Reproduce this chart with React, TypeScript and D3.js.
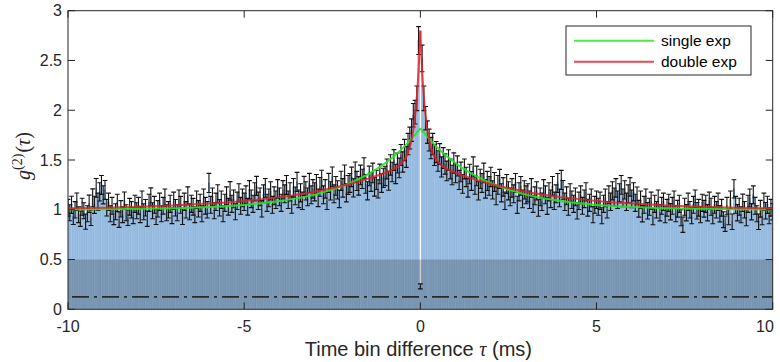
import React from "react";
import * as d3 from "d3";

// ---------- data ----------
const BIN = 0.05; // ms
// g2 values for tau = -10.00 ... -0.05
const G2_LEFT = [
  1.02, 0.97, 1.05, 0.93, 1.00, 1.08, 0.95, 0.91, 1.03, 0.99, 0.88, 0.96, 1.06, 0.92, 1.12, 1.05, 1.22, 1.08, 1.18, 1.25,
  1.15, 1.20, 1.02, 1.08, 0.96, 1.04, 0.93, 0.98, 1.07, 0.90, 1.01, 0.95, 1.09, 0.97, 0.92, 1.03, 1.00, 0.94, 1.06, 0.99,
  1.04, 0.95, 1.10, 0.98, 1.02, 0.91, 1.07, 1.13, 0.99, 1.05, 0.93, 1.01, 1.08, 0.96, 1.04, 1.12, 0.97, 1.00, 1.06, 0.94,
  1.09, 1.02, 0.97, 1.11, 1.05, 0.93, 1.08, 1.00, 1.14, 0.98, 1.06, 1.03, 0.95, 1.10, 1.01, 1.07, 0.96, 1.12, 1.04, 1.00,
  1.27, 1.05, 1.13, 0.99, 1.08, 1.16, 1.02, 1.10, 0.96, 1.07, 1.14, 1.03, 1.19, 1.06, 1.11, 0.98, 1.09, 1.17, 1.04, 1.12,
  1.08, 1.15, 1.03, 1.20, 1.11, 1.06, 1.18, 1.24, 1.09, 1.13, 1.01, 1.16, 1.22, 1.07, 1.12, 1.19, 1.05, 1.14, 1.10, 1.21,
  1.13, 1.07, 1.20, 1.16, 1.25, 1.10, 1.18, 1.05, 1.22, 1.14, 1.28, 1.11, 1.17, 1.09, 1.24, 1.19, 1.13, 1.27, 1.15, 1.21,
  1.18, 1.26, 1.12, 1.23, 1.30, 1.15, 1.21, 1.09, 1.27, 1.19, 1.33, 1.16, 1.24, 1.20, 1.11, 1.29, 1.22, 1.35, 1.17, 1.25,
  1.27, 1.33, 1.22, 1.38, 1.29, 1.24, 1.35, 1.31, 1.42, 1.26, 1.19, 1.34, 1.28, 1.37, 1.23, 1.30, 1.21, 1.36, 1.27, 1.32,
  1.34, 1.41, 1.29, 1.45, 1.38, 1.50, 1.36, 1.47, 1.42, 1.55, 1.48, 1.60, 1.53, 1.66, 1.72, 1.80, 1.95, 1.98, 2.12, 2.70,
];
const G2_ZERO = 0.23;
// g2 values for tau = 0.05 ... 10.00
const G2_RIGHT = [
  2.52, 2.12, 1.92, 1.78, 1.70, 1.62, 1.66, 1.55, 1.58, 1.49, 1.56, 1.43, 1.52, 1.46, 1.39, 1.50, 1.41, 1.35, 1.47, 1.37,
  1.44, 1.30, 1.38, 1.26, 1.41, 1.33, 1.22, 1.36, 1.29, 1.43, 1.25, 1.34, 1.19, 1.31, 1.27, 1.37, 1.21, 1.29, 1.24, 1.33,
  1.20, 1.28, 1.14, 1.25, 1.31, 1.17, 1.23, 1.09, 1.26, 1.19, 1.13, 1.22, 1.16, 1.27, 1.05, 1.18, 1.24, 1.11, 1.20, 1.15,
  1.17, 1.10, 1.22, 1.06, 1.14, 1.19, 1.02, 1.13, 1.08, 1.21, 1.15, 1.04, 1.18, 1.11, 1.24, 1.09, 1.16, 1.27, 1.12, 1.30,
  1.20, 1.08, 1.14, 1.03, 1.17, 1.10, 1.06, 1.13, 0.99, 1.09, 1.15, 1.04, 1.11, 1.18, 1.02, 1.07, 1.12, 0.95, 1.05, 1.10,
  1.03, 1.09, 0.94, 1.06, 1.12, 1.00, 1.15, 1.08, 1.19, 1.13, 1.22, 1.10, 1.17, 1.25, 1.12, 1.20, 1.08, 1.16, 1.23, 1.11,
  1.18, 1.07, 1.14, 1.01, 1.10, 0.96, 1.05, 1.12, 0.99, 1.03, 1.09, 0.93, 1.06, 1.00, 1.11, 0.97, 1.04, 1.08, 0.95, 1.02,
  1.07, 0.98, 1.04, 1.10, 0.96, 1.01, 1.06, 0.92, 0.85, 1.03, 0.97, 1.08, 1.00, 0.94, 1.05, 1.11, 0.99, 1.02, 0.95, 1.07,
  1.01, 1.06, 0.97, 1.09, 1.03, 0.94, 1.05, 1.00, 1.08, 0.96, 1.02, 0.90, 0.86, 1.04, 0.93, 1.10, 0.88, 1.21, 1.05, 0.97,
  1.03, 0.95, 1.07, 1.00, 0.92, 1.06, 1.12, 0.98, 1.15, 1.04, 0.96, 0.88, 1.01, 0.93, 1.08, 0.99, 1.05, 0.94, 1.02, 0.98,
];
// error bar half-lengths
const ERR_LEFT = [
  .084, .080, .086, .078, .082, .088, .079, .077, .085, .081, .076, .080, .087, .078, .090, .086, .094, .087, .092, .095,
  .091, .094, .083, .087, .080, .085, .079, .081, .086, .077, .082, .079, .088, .080, .078, .084, .082, .079, .086, .081,
  .084, .079, .088, .081, .083, .077, .086, .090, .081, .085, .078, .082, .087, .080, .084, .089, .080, .082, .086, .079,
  .087, .083, .080, .089, .085, .078, .087, .082, .090, .081, .086, .084, .079, .088, .082, .086, .080, .089, .084, .082,
  .096, .085, .089, .081, .087, .091, .083, .088, .080, .086, .090, .084, .093, .086, .089, .081, .087, .091, .085, .089,
  .087, .090, .084, .093, .088, .086, .091, .095, .087, .089, .082, .090, .094, .086, .089, .092, .085, .090, .088, .093,
  .089, .086, .093, .090, .095, .088, .091, .085, .094, .089, .096, .088, .091, .087, .095, .092, .089, .096, .090, .093,
  .091, .095, .088, .094, .097, .090, .093, .087, .096, .092, .099, .090, .094, .092, .088, .097, .093, .100, .091, .095,
  .095, .098, .092, .100, .096, .093, .099, .097, .102, .094, .091, .098, .095, .099, .093, .096, .092, .099, .095, .097,
  .097, .100, .094, .102, .098, .104, .097, .101, .099, .105, .102, .107, .104, .108, .110, .113, .118, .119, .124, .140,
];
const ERR_ZERO = 0.025;
const ERR_RIGHT = [
  .134, .124, .117, .113, .110, .107, .108, .105, .106, .103, .105, .101, .104, .102, .099, .103, .100, .098, .102, .098,
  .101, .096, .099, .094, .100, .097, .093, .098, .095, .101, .094, .098, .092, .097, .095, .099, .093, .096, .094, .097,
  .092, .095, .090, .094, .096, .091, .093, .088, .095, .091, .089, .093, .090, .095, .086, .091, .094, .089, .092, .090,
  .091, .088, .093, .086, .090, .092, .085, .089, .087, .093, .090, .086, .091, .088, .094, .087, .090, .095, .089, .096,
  .094, .087, .090, .085, .091, .088, .086, .089, .083, .087, .090, .085, .088, .091, .084, .086, .089, .081, .085, .088,
  .085, .087, .081, .086, .089, .083, .090, .087, .091, .089, .093, .088, .091, .094, .089, .092, .087, .090, .093, .088,
  .091, .086, .089, .084, .088, .082, .085, .089, .083, .085, .087, .081, .086, .083, .088, .082, .085, .087, .081, .084,
  .086, .082, .085, .088, .081, .084, .086, .080, .077, .085, .082, .087, .083, .081, .085, .088, .083, .084, .081, .086,
  .084, .086, .082, .087, .085, .081, .085, .083, .087, .082, .084, .079, .077, .085, .080, .088, .078, .092, .085, .082,
  .085, .081, .087, .083, .080, .086, .089, .082, .090, .085, .081, .078, .084, .080, .087, .083, .086, .081, .084, .082,
];

// fitted curves, sampled at |tau| (symmetric)
const FIT_TAU = [0, 0.025, 0.05, 0.075, 0.1, 0.15, 0.2, 0.25, 0.3, 0.4, 0.5, 0.6, 0.75, 1, 1.5, 2, 3, 4, 5, 6, 7, 8, 9, 10];
const FIT_SINGLE = [1.82, 1.808, 1.797, 1.786, 1.775, 1.754, 1.733, 1.713, 1.693, 1.655, 1.619, 1.585, 1.538, 1.467, 1.353, 1.267, 1.152, 1.087, 1.049, 1.028, 1.016, 1.009, 1.005, 1.003];
const FIT_DOUBLE = [2.80, 2.587, 2.41, 2.259, 2.133, 1.94, 1.80, 1.698, 1.625, 1.53, 1.484, 1.445, 1.411, 1.372, 1.31, 1.259, 1.182, 1.127, 1.089, 1.062, 1.044, 1.030, 1.021, 1.015];

const BACKGROUND_LEVEL = 0.125;
const SHADE_TOP = 0.5;

const X_TICKS = [-10, -5, 0, 5, 10];
const Y_TICKS = [0, 0.5, 1, 1.5, 2, 2.5, 3];
const LEGEND = ["single exp", "double exp"];

// ---------- layout ----------
const W = 780, H = 362;
const X0 = 68, X1 = 772.7, YB = 309.3, YT = 10.7;
const FONT = "'Liberation Sans', Arial, Helvetica, sans-serif";
const SERIF = "'Liberation Serif', 'DejaVu Serif', serif";
const AX = "#262626";
const GREEN = "#1fe81f";
const RED = "#e81c24";

type Pt = { tau: number; v: number; e: number };

export default function App() {
  const x = d3.scaleLinear().domain([-10, 10]).range([X0, X1]);
  const y = d3.scaleLinear().domain([0, 3]).range([YB, YT]);

  const pts: Pt[] = [];
  G2_LEFT.forEach((v, i) => pts.push({ tau: -BIN * (G2_LEFT.length - i), v, e: ERR_LEFT[i] }));
  pts.push({ tau: 0, v: G2_ZERO, e: ERR_ZERO });
  G2_RIGHT.forEach((v, i) => pts.push({ tau: BIN * (i + 1), v, e: ERR_RIGHT[i] }));

  const barW = x(BIN * 0.8) - x(0);
  const cap = 2.4;

  const line = d3
    .line<[number, number]>()
    .x((d) => x(d[0]))
    .y((d) => y(d[1]))
    .curve(d3.curveMonotoneX);

  const side = (vals: number[], sign: number): [number, number][] => {
    const arr: [number, number][] = FIT_TAU.map((t, i) => [sign * t, vals[i]]);
    return sign < 0 ? arr.reverse() : arr;
  };

  const fits = [
    { vals: FIT_SINGLE, color: GREEN, op: 0.9 },
    { vals: FIT_DOUBLE, color: RED, op: 0.8 },
  ];

  return (
    <svg width={W} height={H} style={{ position: "absolute", left: 0, top: 0, background: "#fff" }}>
      <defs>
        <clipPath id="plot">
          <rect x={X0} y={YT} width={X1 - X0} height={YB - YT} />
        </clipPath>
      </defs>
      <g clipPath="url(#plot)">
        {pts.map((p, i) => (
          <rect
            key={"b" + i}
            x={x(p.tau) - barW / 2}
            y={y(p.v)}
            width={barW}
            height={y(0) - y(p.v)}
            fill="#a3c5e6"
            stroke="#6f9fcf"
            strokeWidth={0.4}
          />
        ))}
        <rect x={X0} y={y(SHADE_TOP)} width={X1 - X0} height={y(0) - y(SHADE_TOP)} fill="#000" opacity={0.2} />
        <line
          x1={x(-10) + 4}
          x2={X1}
          y1={y(BACKGROUND_LEVEL)}
          y2={y(BACKGROUND_LEVEL)}
          stroke="#2a2a2a"
          strokeWidth={1.6}
          strokeDasharray="17,5,3,5"
        />
        <g stroke="#111" strokeWidth={1.1}>
          {pts.map((p, i) => {
            const cx = x(p.tau);
            const y1 = y(p.v + p.e);
            const y2 = y(p.v - p.e);
            return (
              <g key={"e" + i}>
                <line x1={cx} x2={cx} y1={y1} y2={y2} />
                <line x1={cx - cap} x2={cx + cap} y1={y1} y2={y1} />
                <line x1={cx - cap} x2={cx + cap} y1={y2} y2={y2} />
              </g>
            );
          })}
        </g>
        {fits.map((f, k) => (
          <g key={"f" + k}>
            <path d={line(side(f.vals, -1)) || ""} fill="none" stroke={f.color} strokeWidth={2} opacity={f.op} />
            <path d={line(side(f.vals, 1)) || ""} fill="none" stroke={f.color} strokeWidth={2} opacity={f.op} />
          </g>
        ))}
      </g>

      {/* axes frame */}
      <rect x={X0} y={YT} width={X1 - X0} height={YB - YT} fill="none" stroke={AX} strokeWidth={1} />
      {X_TICKS.map((t) => (
        <g key={"xt" + t}>
          <line x1={x(t)} x2={x(t)} y1={YB} y2={YB - 7} stroke={AX} />
          <line x1={x(t)} x2={x(t)} y1={YT} y2={YT + 7} stroke={AX} />
          <text x={Math.min(x(t), 765)} y={332} textAnchor="middle" fontFamily={FONT} fontSize={16} fill={AX}>
            {t}
          </text>
        </g>
      ))}
      {Y_TICKS.map((t) => (
        <g key={"yt" + t}>
          <line x1={X0} x2={X0 + 7} y1={y(t)} y2={y(t)} stroke={AX} />
          <line x1={X1} x2={X1 - 7} y1={y(t)} y2={y(t)} stroke={AX} />
          <text x={62} y={y(t) + 5.5} textAnchor="end" fontFamily={FONT} fontSize={16} fill={AX}>
            {t}
          </text>
        </g>
      ))}

      {/* axis labels */}
      <text x={(X0 + X1) / 2 - 2} y={356} textAnchor="middle" fontFamily={FONT} fontSize={20} fill={AX}>
        Time bin difference <tspan fontStyle="italic" fontFamily={SERIF}>τ</tspan> (ms)
      </text>
      <g transform={`translate(30,${(YT + YB) / 2 - 4}) rotate(-90)`}>
        <text textAnchor="middle" fontFamily={SERIF} fontSize={20} fill={AX}>
          <tspan fontStyle="italic">g</tspan>
          <tspan fontSize={14} dy={-8}>(2)</tspan>
          <tspan dy={8} dx={1}>(</tspan>
          <tspan fontStyle="italic">τ</tspan>
          <tspan>)</tspan>
        </text>
      </g>

      {/* legend */}
      <rect x={566} y={26} width={185} height={49} fill="#fff" stroke={AX} strokeWidth={1} />
      {LEGEND.map((name, i) => (
        <g key={name}>
          <line x1={574} x2={654} y1={40.7 + i * 21} y2={40.7 + i * 21} stroke={i === 0 ? GREEN : RED} strokeWidth={2} opacity={0.8} />
          <text x={661} y={46 + i * 21} fontFamily={FONT} fontSize={15.5} fill="#000">
            {name}
          </text>
        </g>
      ))}
    </svg>
  );
}
